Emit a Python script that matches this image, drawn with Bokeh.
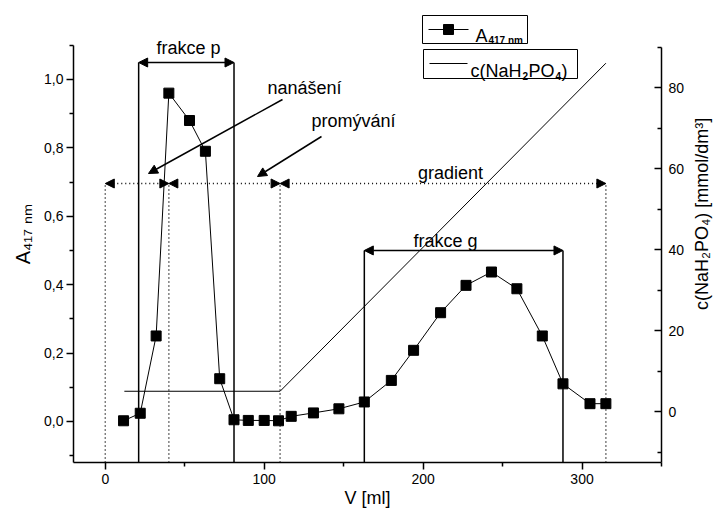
import math
from bokeh.plotting import figure
from bokeh.layouts import row
from bokeh.models import (Range1d, LinearAxis, FixedTicker, CustomJSTickFormatter,
                          Arrow, NormalHead, ColumnDataSource)
from bokeh.core.properties import value
from bokeh.embed import file_html
from bokeh.resources import INLINE

# ---------------- data ----------------
volume_ml = [11.5, 22, 32, 40, 53, 63, 72, 81, 90, 100, 109, 117, 131, 147,
             163, 180, 194, 211, 227, 243, 259, 275, 288, 305, 315]
absorbance = [0.002, 0.024, 0.25, 0.96, 0.88, 0.79, 0.125, 0.005, 0.003, 0.003,
              0.002, 0.015, 0.025, 0.037, 0.057, 0.12, 0.208, 0.318, 0.398,
              0.437, 0.388, 0.25, 0.11, 0.052, 0.052]
gradient_volume = [12, 110, 315]
gradient_conc = [5, 5, 86]

x_ticks = [0, 100, 200, 300]
x_minor = [50, 150, 250, 350]
a_ticks = [0.0, 0.2, 0.4, 0.6, 0.8, 1.0]
a_minor = [-0.1, 0.1, 0.3, 0.5, 0.7, 0.9, 1.1]
c_ticks = [0, 20, 40, 60, 80]
c_minor = [-10, 10, 30, 50, 70, 90]

fraction_p = [21, 81]
fraction_g = [163, 288]
phase_bounds = [0, 40, 110, 315]
phase_names = ["nanášení", "promývání", "gradient"]
right_title = "c(NaH₂PO₄) [mmol/dm³]"

# ---------------- layout ----------------
W, H = 718, 511
SIDE_W = 28                       # narrow strip holding the right-axis title
MAIN_W = W - SIDE_W
FL, FR, FT, FB = 73, 661, 5, 462
X0, X1 = -20, 350
Y0 = -0.12
A_PX = 342.0
Y1 = Y0 + (FB - FT) / A_PX
C_PX = 4.05
C0 = -(FB - 411) / C_PX
C1 = C0 + (FB - FT) / C_PX

FONT = "Liberation Sans"


def px_x(px):
    return X0 + (px - FL) * (X1 - X0) / (FR - FL)


def px_y(py):
    return Y0 + (FB - py) / A_PX


p = figure(width=MAIN_W, height=H, output_backend="svg", toolbar_location=None,
           x_range=Range1d(X0, X1), y_range=Range1d(Y0, Y1),
           min_border_left=FL, min_border_right=MAIN_W - FR,
           min_border_top=FT, min_border_bottom=H - FB)
p.outline_line_color = None
p.xgrid.visible = False
p.ygrid.visible = False
p.background_fill_color = "white"
p.border_fill_color = "white"
p.extra_y_ranges = {"c": Range1d(C0, C1)}

# axes styling
def style_axis(ax):
    ax.axis_line_color = "black"
    ax.axis_line_width = 1.5
    ax.major_tick_line_color = "black"
    ax.major_tick_line_width = 1.5
    ax.minor_tick_line_color = "black"
    ax.minor_tick_line_width = 1.5
    ax.major_label_text_font = FONT
    ax.major_label_text_font_size = "14px"
    ax.major_label_text_color = "black"
    ax.axis_label_text_font = FONT
    ax.axis_label_text_font_size = "18px"
    ax.axis_label_text_font_style = "normal"
    ax.axis_label_text_color = "black"

xa = p.xaxis[0]
style_axis(xa)
xa.ticker = FixedTicker(ticks=x_ticks, minor_ticks=x_minor)
xa.major_tick_out = 7
xa.major_tick_in = 0
xa.minor_tick_out = 4
xa.minor_tick_in = 0
xa.major_label_standoff = 4
xa.axis_label = "V [ml]"
xa.axis_label_standoff = 1

ya = p.yaxis[0]
style_axis(ya)
ya.ticker = FixedTicker(ticks=a_ticks, minor_ticks=a_minor)
ya.formatter = CustomJSTickFormatter(code="return tick.toFixed(1).replace('.', ',');")
ya.bounds = (Y0, 1.1)
ya.major_tick_out = 7
ya.major_tick_in = 0
ya.minor_tick_out = 4
ya.minor_tick_in = 0
ya.major_label_standoff = 3
ya.axis_label = "A₄₁₇ ₙₘ"
ya.axis_label_text_font_size = "20px"
ya.axis_label_standoff = 7

ra = LinearAxis(y_range_name="c")
style_axis(ra)
ra.ticker = FixedTicker(ticks=c_ticks, minor_ticks=c_minor)
ra.bounds = (C0, 90)
ra.major_tick_out = 0
ra.major_tick_in = 7
ra.minor_tick_out = 0
ra.minor_tick_in = 4
ra.major_label_standoff = 7
p.add_layout(ra, "right")

# ---------------- fraction markers ----------------
head = lambda: NormalHead(size=9, fill_color="black", line_color="black", line_width=1)

yp = px_y(62)
p.segment(x0=fraction_p, y0=[Y0, Y0], x1=fraction_p, y1=[yp, yp],
          line_color="black", line_width=1.5)
p.add_layout(Arrow(start=head(), end=head(), x_start=fraction_p[0], y_start=yp,
                   x_end=fraction_p[1], y_end=yp, line_width=1.5, line_color="black"))
yg = 0.50
p.segment(x0=fraction_g, y0=[Y0, Y0], x1=fraction_g, y1=[yg, yg],
          line_color="black", line_width=1.5)
p.add_layout(Arrow(start=head(), end=head(), x_start=fraction_g[0], y_start=yg,
                   x_end=fraction_g[1], y_end=yg, line_width=1.5, line_color="black"))

# ---------------- phases (dotted) ----------------
yd = px_y(183)
p.segment(x0=phase_bounds, y0=[Y0] * 4, x1=phase_bounds, y1=[yd] * 4,
          line_color="black", line_width=1.5, line_dash="1 3")
for a, b in zip(phase_bounds[:-1], phase_bounds[1:]):
    p.add_layout(Arrow(start=head(), end=head(), x_start=a, y_start=yd, x_end=b, y_end=yd,
                       line_width=1.5, line_color="black", line_dash="1 3"))

# pointer arrows
p.add_layout(Arrow(end=head(), x_start=px_x(282), y_start=px_y(99), x_end=px_x(148),
                   y_end=px_y(173), line_width=1.5, line_color="black"))
p.add_layout(Arrow(end=head(), x_start=px_x(321), y_start=px_y(136), x_end=px_x(257),
                   y_end=px_y(176), line_width=1.5, line_color="black"))

# ---------------- series ----------------
p.line(gradient_volume, gradient_conc, y_range_name="c", line_color="black", line_width=1)
src = ColumnDataSource(dict(v=volume_ml, a=absorbance))
p.line("v", "a", source=src, line_color="black", line_width=1)
p.scatter("v", "a", source=src, marker="square", size=10, fill_color="black",
          line_color="black")

# ---------------- labels ----------------
labels = ["frakce p", "frakce g", phase_names[0], phase_names[1], phase_names[2]]
lx = [px_x(188), px_x(445), px_x(304), px_x(353), px_x(450)]
ly = [px_y(47), px_y(240), px_y(87), px_y(120), px_y(172)]
p.text(x=lx, y=ly, text=labels, text_font=value(FONT), text_font_size="18px",
       text_align="center", text_baseline="middle", text_color="black")

# ---------------- legend (manual) ----------------
p.quad(left=[px_x(422), px_x(423)], right=[px_x(527), px_x(577)],
       top=[px_y(15), px_y(49)], bottom=[px_y(43), px_y(78)],
       fill_color="white", line_color="black", line_width=1)
p.line([px_x(428), px_x(468)], [px_y(29)] * 2, line_color="black", line_width=1)
p.scatter([px_x(448)], [px_y(29)], marker="square", size=10, fill_color="black",
          line_color="black")
p.line([px_x(429), px_x(467)], [px_y(63)] * 2, line_color="black", line_width=1)

big = dict(text_font=value(FONT), text_font_size="18px", text_baseline="alphabetic",
           text_align="left", text_color="black")
small = dict(text_font=value(FONT), text_font_size="10px", text_baseline="alphabetic",
             text_align="left", text_color="black", text_font_style="bold")
p.text(x=[px_x(475), px_x(470), px_x(528), px_x(561)],
       y=[px_y(35), px_y(70), px_y(70), px_y(70)],
       text=["A", "c(NaH", "PO", ")"], **big)
p.text(x=[px_x(488), px_x(522), px_x(555)],
       y=[px_y(40), px_y(75), px_y(75)],
       text=["417 nm", "2", "4"], **small)

# ---------------- right-axis title strip ----------------
s = figure(width=SIDE_W, height=H, output_backend="svg", toolbar_location=None,
           x_range=Range1d(0, SIDE_W), y_range=Range1d(0, H),
           x_axis_location=None, y_axis_location=None,
           min_border_left=0, min_border_right=0, min_border_top=0, min_border_bottom=0)
s.outline_line_color = None
s.xgrid.visible = False
s.ygrid.visible = False
s.background_fill_color = "white"
s.border_fill_color = "white"
s.text(x=[701 - MAIN_W], y=[H - 233], text=[right_title], angle=math.pi / 2,
       text_font=value(FONT), text_font_size="18px", text_align="center",
       text_baseline="middle", text_color="black")

layout = row(p, s, spacing=0)
open("out.html", "w").write(file_html(layout, INLINE))
